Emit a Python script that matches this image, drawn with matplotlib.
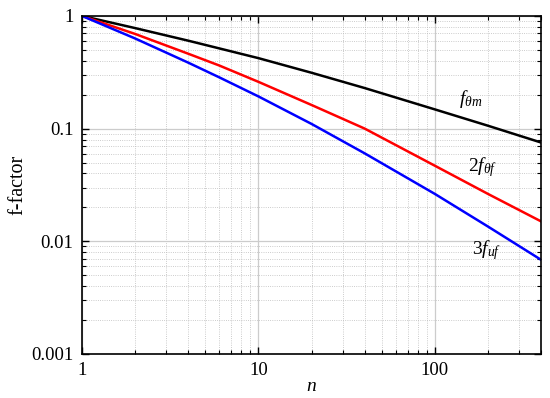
import numpy as np
import matplotlib
matplotlib.use("Agg")
import matplotlib.pyplot as plt

plt.rcParams['font.family'] = 'Liberation Serif'
plt.rcParams['mathtext.fontset'] = 'custom'
plt.rcParams['mathtext.rm'] = 'Liberation Serif'
plt.rcParams['mathtext.it'] = 'Liberation Serif:italic'

# values
n = [1, 2, 4, 6, 10, 20, 40, 100, 200, 400]
f_thm = [1, 0.780, 0.603, 0.515, 0.422, 0.313, 0.229, 0.148, 0.106, 0.0752]
f_thf2 = [1, 0.692, 0.462, 0.363, 0.260, 0.162, 0.100, 0.0468, 0.0263, 0.0150]
f_uf3 = [1, 0.631, 0.385, 0.285, 0.193, 0.110, 0.0603, 0.0263, 0.0135, 0.00684]

labels = [r'$f_{\theta m}$', r'$2f_{\theta f}$', r'$3f_{uf}$']
label_pos = [(137, 0.166), (154, 0.0421), (162, 0.00773)]

fig = plt.figure(figsize=(5.5, 3.98), dpi=100)
ax = fig.add_axes([0.149, 0.1106, 0.835, 0.8494])

ax.plot(n, f_thm, color='black', lw=1.8)
ax.plot(n, f_thf2, color='#ff0000', lw=1.8)
ax.plot(n, f_uf3, color='#0000ff', lw=1.8)

for lab, (x, y) in zip(labels, label_pos):
    ax.text(x, y, lab, fontsize=14, va='baseline', ha='left')

ax.set_xscale('log')
ax.set_yscale('log')
ax.set_xlim(1, 400)
ax.set_ylim(0.001, 1)
ax.set_xticks([1, 10, 100])
ax.set_xticklabels(['1', '10', '100'])
ax.set_yticks([0.001, 0.01, 0.1, 1])
ax.set_yticklabels(['0.001', '0.01', '0.1', '1'])

ax.grid(which='major', color='#cccccc', lw=0.9, ls='-')
ax.grid(which='minor', color='#bbbbbb', lw=0.6, ls=':')
ax.set_axisbelow(True)

ax.tick_params(which='both', direction='in', top=True, right=True, labelsize=13.5)
ax.tick_params(which='major', length=5, width=1)
ax.tick_params(axis='y', pad=6)
ax.tick_params(axis='x', pad=6)
ax.tick_params(which='minor', length=3, width=0.8)
for s in ax.spines.values():
    s.set_linewidth(1.2)

ax.set_xlabel(r'$n$', fontsize=14, labelpad=-1)
ax.set_ylabel('f-factor', fontsize=14.5, labelpad=3)

fig.savefig('out.png', dpi=100)
